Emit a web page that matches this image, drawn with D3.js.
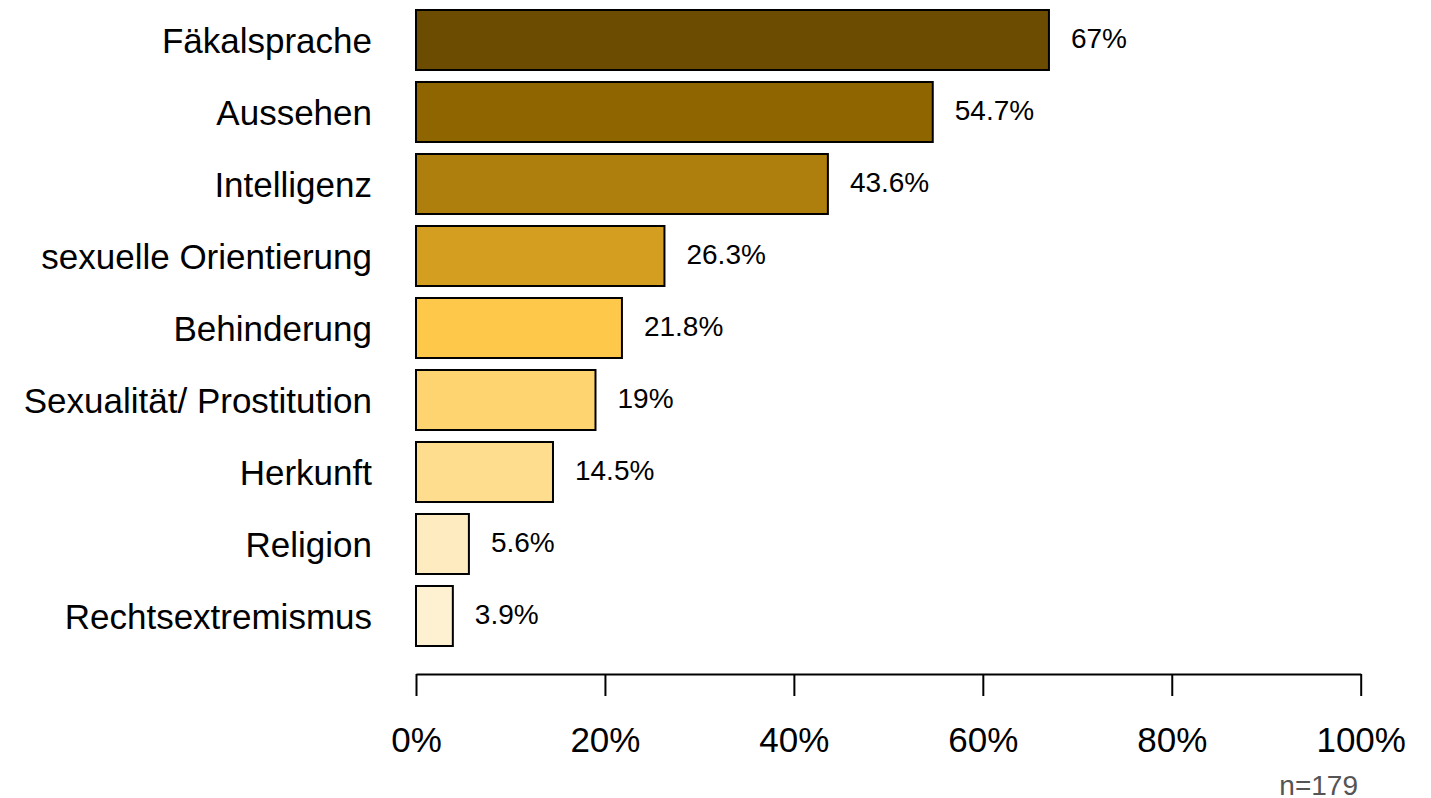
<!DOCTYPE html>
<html>
<head>
<meta charset="utf-8">
<script src="https://cdn.jsdelivr.net/npm/d3@7"></script>
<style>
  html, body { margin: 0; padding: 0; background: #fff; }
  svg { display: block; font-family: "Liberation Sans", Arial, Helvetica, sans-serif; }
</style>
</head>
<body>
<svg id="chart" width="1431" height="798"></svg>
<script>
const categories = ["Fäkalsprache", "Aussehen", "Intelligenz", "sexuelle Orientierung", "Behinderung", "Sexualität/ Prostitution", "Herkunft", "Religion", "Rechtsextremismus"];
const values = [67, 54.7, 43.6, 26.3, 21.8, 19, 14.5, 5.6, 3.9];
const valueLabels = ["67%", "54.7%", "43.6%", "26.3%", "21.8%", "19%", "14.5%", "5.6%", "3.9%"];
const colors = ["#6b4c00", "#8f6500", "#ae7f0d", "#d49e20", "#fec84a", "#fed470", "#fedd8e", "#feebbf", "#fef1d2"];
const tickValues = [0, 20, 40, 60, 80, 100];
const tickLabels = ["0%", "20%", "40%", "60%", "80%", "100%"];
const note = "n=179";

const svg = d3.select("#chart");
const x = d3.scaleLinear().domain([0, 100]).range([416, 1360.7]);
const y = d3.scaleBand().domain(categories).range([4, 652]).paddingInner(1/6).paddingOuter(1/12);

svg.selectAll("rect.bar").data(categories).join("rect")
  .attr("class", "bar")
  .attr("x", x(0))
  .attr("y", d => y(d))
  .attr("width", (d, i) => x(values[i]) - x(0))
  .attr("height", y.bandwidth())
  .attr("fill", (d, i) => colors[i])
  .attr("stroke", "#000")
  .attr("stroke-width", 2);

svg.selectAll("text.cat").data(categories).join("text")
  .attr("class", "cat")
  .attr("x", x(0) - 44)
  .attr("y", d => y(d) + y.bandwidth() / 2 + 13)
  .attr("text-anchor", "end")
  .attr("font-size", 35)
  .attr("fill", "#000")
  .text(d => d);

svg.selectAll("text.val").data(categories).join("text")
  .attr("class", "val")
  .attr("x", (d, i) => x(values[i]) + 22)
  .attr("y", d => y(d) + y.bandwidth() / 2 + 8)
  .attr("font-size", 28)
  .attr("fill", "#000")
  .text((d, i) => valueLabels[i]);

const axis = d3.axisBottom(x).tickValues(tickValues).tickFormat((d, i) => tickLabels[i])
  .tickSizeOuter(0).tickSizeInner(22).tickPadding(31);
const gAxis = svg.append("g").attr("transform", "translate(0,674)").call(axis);
gAxis.select(".domain").attr("stroke", "#000").attr("stroke-width", 2);
gAxis.selectAll(".tick line").attr("stroke", "#000").attr("stroke-width", 2);
gAxis.selectAll(".tick text").attr("font-size", 35).attr("fill", "#000")
  .attr("font-family", "Liberation Sans, Arial, sans-serif");

svg.append("text")
  .attr("x", 1358)
  .attr("y", 795)
  .attr("text-anchor", "end")
  .attr("font-size", 28)
  .attr("fill", "#555")
  .text(note);
</script>
</body>
</html>
